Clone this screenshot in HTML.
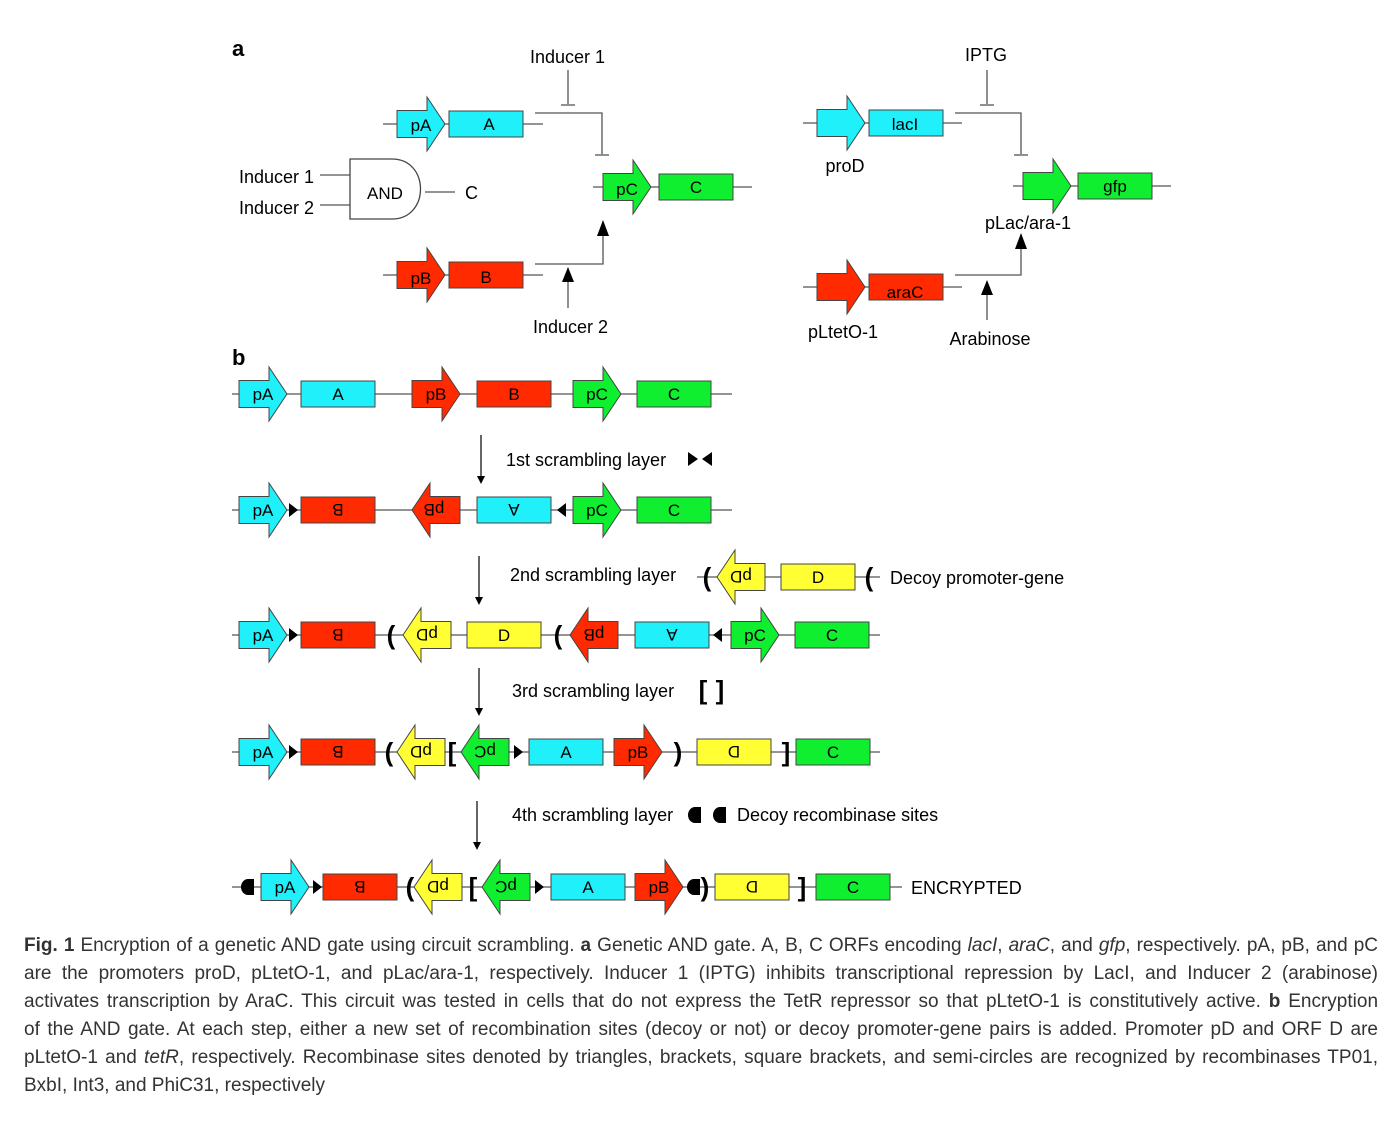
<!DOCTYPE html>
<html><head><meta charset="utf-8">
<style>
body{margin:0;background:#fff;}
#wrap{position:relative;width:1400px;height:1128px;overflow:hidden;background:#fff;}
svg text{font-family:"Liberation Sans",Arial,sans-serif;}
.cap{position:absolute;left:24px;width:1354px;font-family:"Liberation Sans",Arial,sans-serif;font-size:19px;color:#333;line-height:28px;}
.cap div{text-align:justify;text-align-last:justify;white-space:nowrap;height:28px;}
.cap div.last{text-align-last:left;}
</style></head><body><div id="wrap">
<svg width="1400" height="930" viewBox="0 0 1400 930" xmlns="http://www.w3.org/2000/svg">
<defs>
<path id="pr" d="M0,-13.5 H30 V-27 L48,0 L30,27 V13.5 H0 Z" stroke="#444" stroke-width="1"/>
<path id="pl" d="M48,-13.5 H18 V-27 L0,0 L18,27 V13.5 H48 Z" stroke="#444" stroke-width="1"/>
<rect id="gb" x="0" y="-13" width="74" height="26" stroke="#444" stroke-width="1"/>
<path id="tr" d="M0,-7 L9,0 L0,7 Z" fill="#000"/>
<path id="tl" d="M9,-7 L0,0 L9,7 Z" fill="#000"/>
<path id="sc" d="M13,-8 H7 A7,8 0 0 0 7,8 H13 Z" fill="#000"/>
</defs>
<g font-size="18" fill="#000">
<text x="232" y="56" font-size="22" font-weight="bold">a</text>
<text x="232" y="365" font-size="22" font-weight="bold">b</text>
</g>
<!-- part a left -->
<g stroke="#555" stroke-width="1.3" fill="none">
<line x1="383" y1="124" x2="543" y2="124"/>
<line x1="383" y1="275" x2="543" y2="275"/>
<line x1="593" y1="187" x2="752" y2="187"/>
<line x1="568" y1="70" x2="568" y2="104"/><line x1="561" y1="105" x2="575" y2="105"/>
<polyline points="535,113 602,113 602,154"/><line x1="595" y1="155" x2="609" y2="155"/>
<polyline points="535,264 603,264 603,236"/>
<line x1="568" y1="308" x2="568" y2="282"/>
<line x1="320" y1="175" x2="350" y2="175"/><line x1="320" y1="205" x2="350" y2="205"/>
<line x1="425" y1="192" x2="455" y2="192"/>
<path d="M350,159 H392 C430,159 430,219 392,219 H350 Z" fill="#fff" stroke="#444"/>
</g>
<path d="M597,236 L603,220 L609,236 Z" fill="#000"/>
<path d="M562,282 L568,267 L574,282 Z" fill="#000"/>
<use href="#pr" x="397" y="124" fill="#1ff0fa"/><use href="#gb" x="449" y="124" fill="#1ff0fa"/>
<use href="#pr" x="397" y="275" fill="#ff2a00"/><use href="#gb" x="449" y="275" fill="#ff2a00"/>
<use href="#pr" x="603" y="187" fill="#10ee30"/><use href="#gb" x="659" y="187" fill="#10ee30"/>
<g font-size="17" text-anchor="middle">
<text x="421" y="131">pA</text><text x="489" y="130">A</text>
<text x="421" y="284">pB</text><text x="486" y="283">B</text>
<text x="627" y="195">pC</text><text x="696" y="193">C</text>
<text x="385" y="199">AND</text>
</g>
<g font-size="18">
<text x="530" y="63">Inducer 1</text>
<text x="533" y="333">Inducer 2</text>
<text x="239" y="183">Inducer 1</text>
<text x="239" y="214">Inducer 2</text>
<text x="465" y="199">C</text>
</g>
<!-- part a right -->
<g stroke="#555" stroke-width="1.3" fill="none">
<line x1="803" y1="123" x2="962" y2="123"/>
<line x1="803" y1="287" x2="962" y2="287"/>
<line x1="1013" y1="186" x2="1171" y2="186"/>
<line x1="987" y1="70" x2="987" y2="104"/><line x1="980" y1="105" x2="994" y2="105"/>
<polyline points="955,113 1021,113 1021,154"/><line x1="1014" y1="155" x2="1028" y2="155"/>
<polyline points="955,275 1021,275 1021,249"/>
<line x1="987" y1="320" x2="987" y2="295"/>
</g>
<path d="M1015,249 L1021,233 L1027,249 Z" fill="#000"/>
<path d="M981,295 L987,280 L993,295 Z" fill="#000"/>
<use href="#pr" x="817" y="123" fill="#1ff0fa"/><use href="#gb" x="869" y="123" fill="#1ff0fa"/>
<use href="#pr" x="817" y="287" fill="#ff2a00"/><use href="#gb" x="869" y="287" fill="#ff2a00"/>
<use href="#pr" x="1023" y="186" fill="#10ee30"/><use href="#gb" x="1078" y="186" fill="#10ee30"/>
<g font-size="17" text-anchor="middle">
<text x="905" y="130">lacI</text><text x="905" y="298">araC</text><text x="1115" y="192">gfp</text>
</g>
<g font-size="18" text-anchor="middle">
<text x="986" y="61">IPTG</text><text x="845" y="172">proD</text>
<text x="1028" y="229">pLac/ara-1</text><text x="843" y="338">pLtetO-1</text>
<text x="990" y="345">Arabinose</text>
</g>
<!-- part b -->
<g stroke="#555" stroke-width="1.3">
<line x1="232" y1="394" x2="732" y2="394"/>
<line x1="232" y1="510" x2="732" y2="510"/>
<line x1="697" y1="577" x2="880" y2="577"/>
<line x1="232" y1="635" x2="880" y2="635"/>
<line x1="232" y1="752" x2="880" y2="752"/>
<line x1="232" y1="887" x2="902" y2="887"/>
</g>
<g stroke="#000" stroke-width="1.2">
<line x1="481" y1="435" x2="481" y2="476"/><line x1="479" y1="556" x2="479" y2="597"/>
<line x1="479" y1="668" x2="479" y2="708"/><line x1="477" y1="801" x2="477" y2="842"/>
</g>
<g fill="#000">
<path d="M477,476 L481,484 L485,476Z"/><path d="M475,597 L479,605 L483,597Z"/>
<path d="M475,708 L479,716 L483,708Z"/><path d="M473,842 L477,850 L481,842Z"/>
</g>
<!-- row1 -->
<use href="#pr" x="239" y="394" fill="#1ff0fa"/><use href="#gb" x="301" y="394" fill="#1ff0fa"/>
<use href="#pr" x="412" y="394" fill="#ff2a00"/><use href="#gb" x="477" y="394" fill="#ff2a00"/>
<use href="#pr" x="573" y="394" fill="#10ee30"/><use href="#gb" x="637" y="394" fill="#10ee30"/>
<!-- row2 -->
<use href="#pr" x="239" y="510" fill="#1ff0fa"/><use href="#tr" x="289" y="510"/>
<use href="#gb" x="301" y="510" fill="#ff2a00"/>
<use href="#pl" x="412" y="510" fill="#ff2a00"/><use href="#gb" x="477" y="510" fill="#1ff0fa"/>
<use href="#tl" x="557" y="510"/>
<use href="#pr" x="573" y="510" fill="#10ee30"/><use href="#gb" x="637" y="510" fill="#10ee30"/>
<!-- decoy -->
<use href="#pl" x="717" y="577" fill="#ffff33"/><use href="#gb" x="781" y="577" fill="#ffff33"/>
<!-- row3 -->
<use href="#pr" x="239" y="635" fill="#1ff0fa"/><use href="#tr" x="289" y="635"/>
<use href="#gb" x="301" y="635" fill="#ff2a00"/>
<use href="#pl" x="403" y="635" fill="#ffff33"/><use href="#gb" x="467" y="635" fill="#ffff33"/>
<use href="#pl" x="570" y="635" fill="#ff2a00"/><use href="#gb" x="635" y="635" fill="#1ff0fa"/>
<use href="#tl" x="713" y="635"/>
<use href="#pr" x="731" y="635" fill="#10ee30"/><use href="#gb" x="795" y="635" fill="#10ee30"/>
<!-- row4 -->
<use href="#pr" x="239" y="752" fill="#1ff0fa"/><use href="#tr" x="289" y="752"/>
<use href="#gb" x="301" y="752" fill="#ff2a00"/>
<use href="#pl" x="397" y="752" fill="#ffff33"/>
<use href="#pl" x="461" y="752" fill="#10ee30"/><use href="#tr" x="514" y="752"/>
<use href="#gb" x="529" y="752" fill="#1ff0fa"/>
<use href="#pr" x="614" y="752" fill="#ff2a00"/>
<use href="#gb" x="697" y="752" fill="#ffff33"/><use href="#gb" x="796" y="752" fill="#10ee30"/>
<!-- row5 -->
<use href="#sc" x="241" y="887"/>
<use href="#pr" x="261" y="887" fill="#1ff0fa"/><use href="#tr" x="313" y="887"/>
<use href="#gb" x="323" y="887" fill="#ff2a00"/>
<use href="#pl" x="414" y="887" fill="#ffff33"/>
<use href="#pl" x="482" y="887" fill="#10ee30"/><use href="#tr" x="535" y="887"/>
<use href="#gb" x="551" y="887" fill="#1ff0fa"/>
<use href="#pr" x="635" y="887" fill="#ff2a00"/>
<use href="#sc" x="687" y="887"/>
<use href="#gb" x="715" y="887" fill="#ffff33"/><use href="#gb" x="816" y="887" fill="#10ee30"/>
<!-- semicircle legend -->
<use href="#sc" x="688" y="815"/><use href="#sc" x="713" y="815"/>
<!-- bowtie -->
<path d="M688,452 L698,459 L688,466Z M712,452 L702,459 L712,466Z" fill="#000"/>
<!-- brackets & parens -->
<g font-size="26" font-weight="bold" text-anchor="middle" fill="#000">
<text x="707" y="586">(</text><text x="869" y="586">(</text>
<text x="391" y="644">(</text><text x="558" y="644">(</text>
<text x="389" y="761">(</text><text x="452" y="761">[</text><text x="678" y="761">)</text><text x="786" y="761">]</text>
<text x="410" y="896">(</text><text x="473" y="896">[</text><text x="705" y="896">)</text><text x="802" y="896">]</text>
<text x="703" y="699">[</text><text x="720" y="699">]</text>
</g>
<!-- labels in shapes -->
<g font-size="17" text-anchor="middle" fill="#000">
<text x="263" y="400">pA</text><text x="338" y="400">A</text><text x="436" y="400">pB</text><text x="514" y="400">B</text><text x="597" y="400">pC</text><text x="674" y="400">C</text>
<text x="263" y="516">pA</text><text x="597" y="516">pC</text><text x="674" y="516">C</text>
<text x="263" y="641">pA</text><text x="755" y="641">pC</text><text x="832" y="641">C</text>
<text x="263" y="758">pA</text><text x="566" y="758">A</text><text x="638" y="758">pB</text><text x="833" y="758">C</text>
<text x="285" y="893">pA</text><text x="588" y="893">A</text><text x="659" y="893">pB</text><text x="853" y="893">C</text>
<text x="818" y="583">D</text><text x="504" y="641">D</text>
<!-- rotated -->
<text transform="translate(338,510) rotate(180)" y="6">B</text>
<text transform="translate(434,510) rotate(180)" y="6">pB</text>
<text transform="translate(514,510) rotate(180)" y="6">A</text>
<text transform="translate(741,577) rotate(180)" y="6">pD</text>
<text transform="translate(338,635) rotate(180)" y="6">B</text>
<text transform="translate(427,635) rotate(180)" y="6">pD</text>
<text transform="translate(594,635) rotate(180)" y="6">pB</text>
<text transform="translate(672,635) rotate(180)" y="6">A</text>
<text transform="translate(338,752) rotate(180)" y="6">B</text>
<text transform="translate(421,752) rotate(180)" y="6">pD</text>
<text transform="translate(485,752) rotate(180)" y="6">pC</text>
<text transform="translate(734,752) rotate(180)" y="6">D</text>
<text transform="translate(360,887) rotate(180)" y="6">B</text>
<text transform="translate(438,887) rotate(180)" y="6">pD</text>
<text transform="translate(506,887) rotate(180)" y="6">pC</text>
<text transform="translate(752,887) rotate(180)" y="6">D</text>
</g>
<g font-size="18" fill="#000">
<text x="506" y="466">1st scrambling layer</text>
<text x="510" y="581">2nd scrambling layer</text>
<text x="890" y="584">Decoy promoter-gene</text>
<text x="512" y="697">3rd scrambling layer</text>
<text x="512" y="821">4th scrambling layer</text>
<text x="737" y="821">Decoy recombinase sites</text>
<text x="911" y="894">ENCRYPTED</text>
</g>
</svg>
<div class="cap" style="top:932px;">
<div><b>Fig. 1</b> Encryption of a genetic AND gate using circuit scrambling. <b>a</b> Genetic AND gate. A, B, C ORFs encoding <i>lacI</i>, <i>araC</i>, and <i>gfp</i>, respectively. pA, pB, and pC</div>
<div>are the promoters proD, pLtetO-1, and pLac/ara-1, respectively. Inducer 1 (IPTG) inhibits transcriptional repression by LacI, and Inducer 2 (arabinose)</div>
<div>activates transcription by AraC. This circuit was tested in cells that do not express the TetR repressor so that pLtetO-1 is constitutively active. <b>b</b> Encryption</div>
<div>of the AND gate. At each step, either a new set of recombination sites (decoy or not) or decoy promoter-gene pairs is added. Promoter pD and ORF D are</div>
<div>pLtetO-1 and <i>tetR</i>, respectively. Recombinase sites denoted by triangles, brackets, square brackets, and semi-circles are recognized by recombinases TP01,</div>
<div class="last">BxbI, Int3, and PhiC31, respectively</div>
</div>
</div></body></html>
